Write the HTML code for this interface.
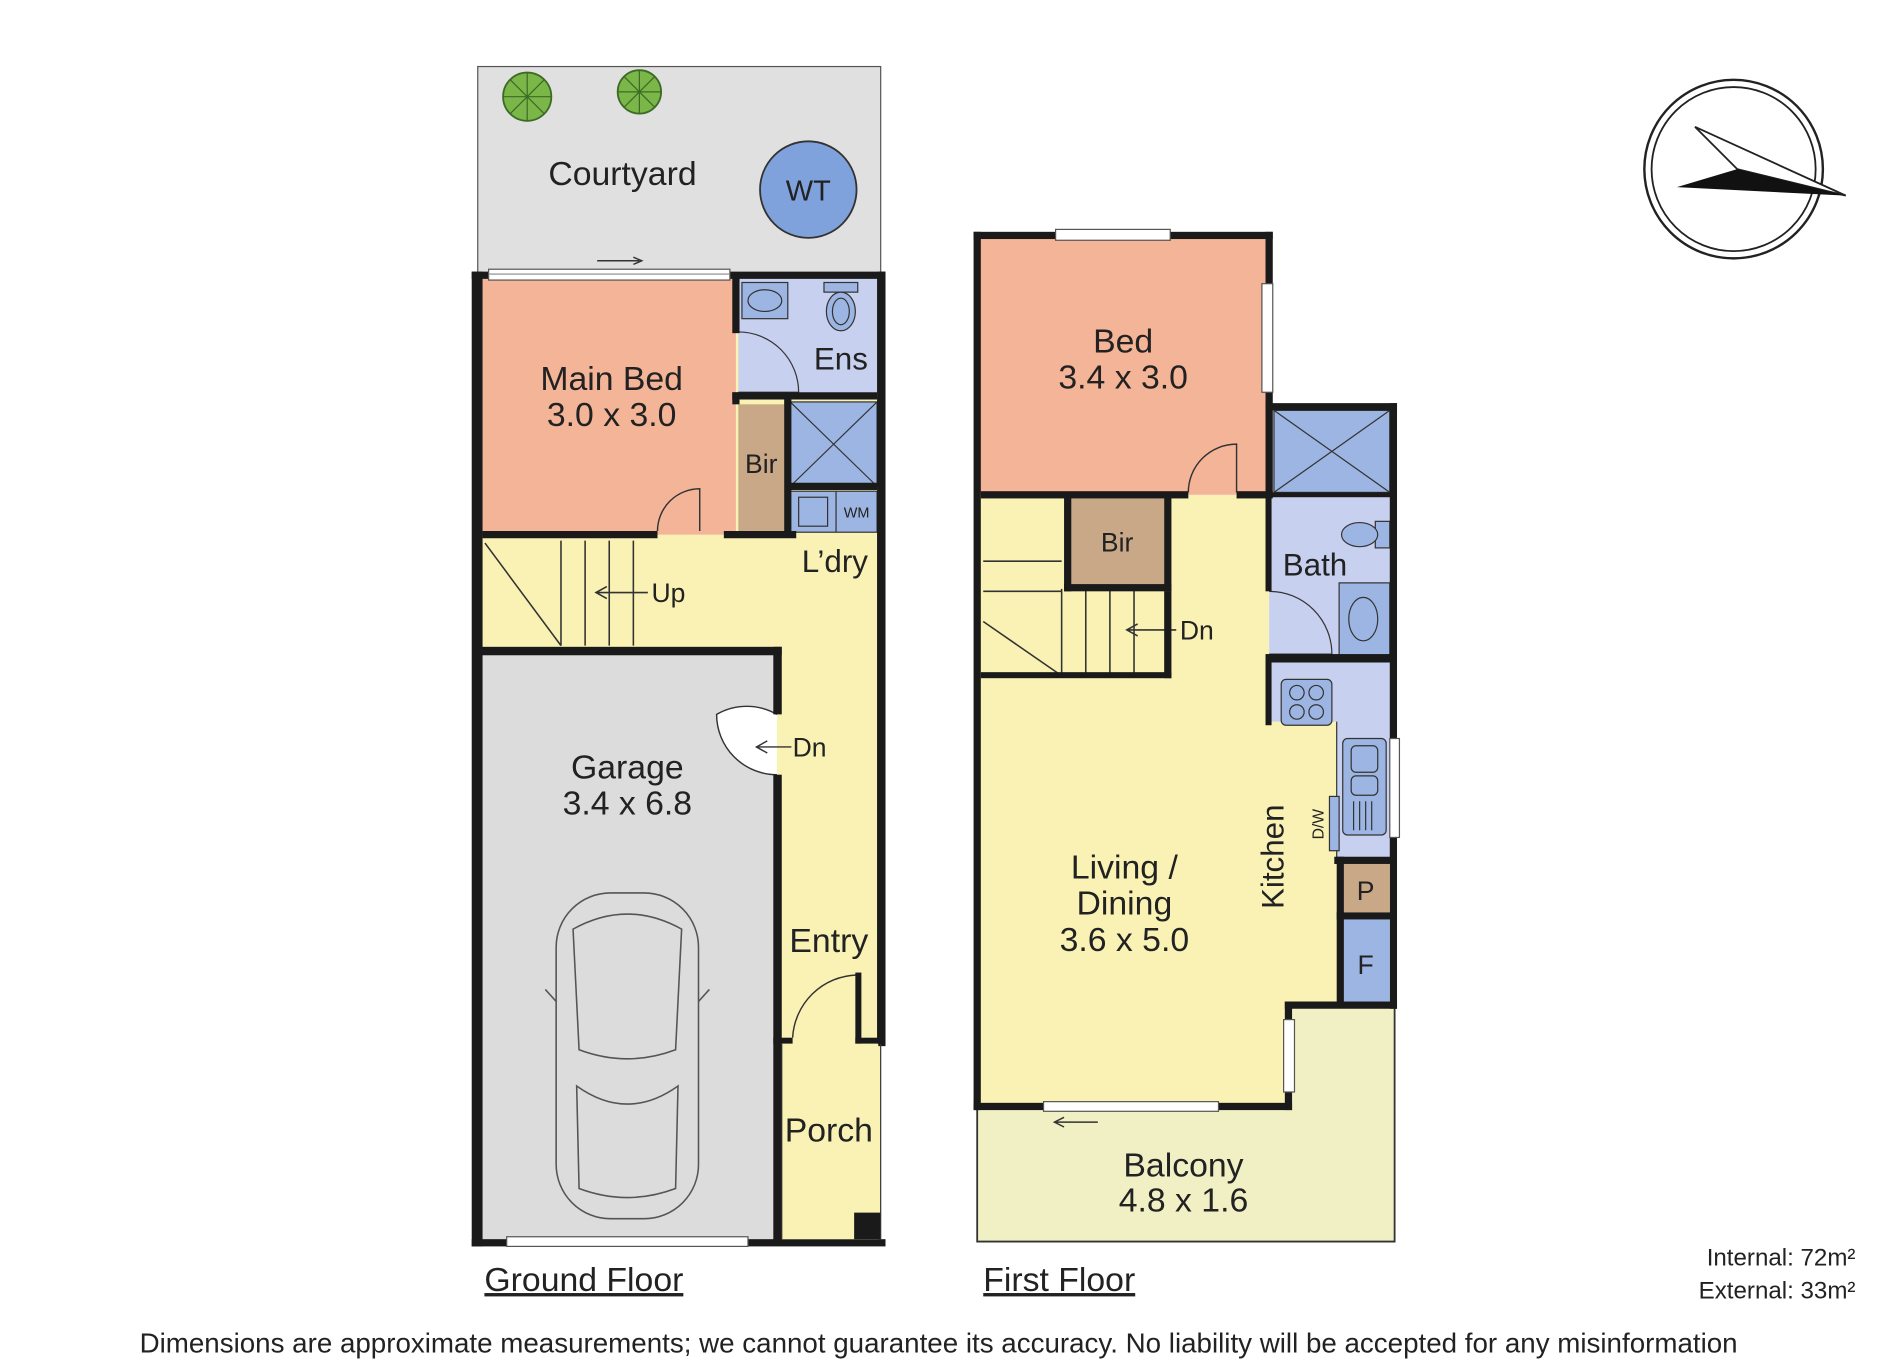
<!DOCTYPE html>
<html><head><meta charset="utf-8"><style>html,body{margin:0;padding:0;background:#fff}svg{display:block}text{font-family:"Liberation Sans",sans-serif;fill:#222}</style></head><body>
<svg width="1882" height="1360" viewBox="0 0 1560 1127" xmlns="http://www.w3.org/2000/svg">
<rect width="1560" height="1127" fill="#fff"/>
<!-- Courtyard -->
<rect x="396" y="55" width="334" height="172" fill="#e0e0e0" stroke="#555" stroke-width="1"/>
<circle cx="437" cy="80" r="20" fill="#7ab648" stroke="#3d6b25" stroke-width="1.5"/>
<path d="M437 60 V100 M417 80 H457 M423 66 L451 94 M451 66 L423 94" stroke="#3d6b25" stroke-width="1"/>
<circle cx="530" cy="76" r="18" fill="#7ab648" stroke="#3d6b25" stroke-width="1.5"/>
<path d="M530 58 V94 M512 76 H548 M517 63 L543 89 M543 63 L517 89" stroke="#3d6b25" stroke-width="1"/>
<circle cx="670" cy="157" r="40" fill="#7fa2dc" stroke="#333" stroke-width="1.5"/>
<text x="670" y="166" font-size="24" text-anchor="middle">WT</text>
<text x="516" y="153" font-size="28" text-anchor="middle">Courtyard</text>
<!-- Ground floor fills -->
<rect x="396" y="228" width="334" height="802" fill="#f9f2b4"/>
<rect x="400" y="230" width="210" height="213" fill="#f4b497"/>
<rect x="612" y="230" width="115" height="100" fill="#c8d0ef"/>
<rect x="615" y="234" width="38" height="30" fill="#9cb5e2" stroke="#333" stroke-width="1"/>
<ellipse cx="634" cy="249" rx="14" ry="9" fill="#9cb5e2" stroke="#333"/>
<rect x="683" y="234" width="28" height="8" fill="#9cb5e2" stroke="#333"/>
<ellipse cx="697" cy="258" rx="12" ry="16" fill="#9cb5e2" stroke="#333"/>
<ellipse cx="697" cy="258" rx="7" ry="11" fill="none" stroke="#333"/>
<path d="M612 325 L662 325 A50 50 0 0 0 612 275" fill="none" stroke="#333" stroke-width="1"/>
<rect x="655" y="333" width="72" height="70" fill="#9cb5e2" stroke="#333"/>
<path d="M655 333 L727 403 M727 333 L655 403" stroke="#333"/>
<rect x="612" y="335" width="38" height="105" fill="#c8a886"/>
<rect x="655" y="407" width="72" height="34" fill="#9cb5e2" stroke="#333"/>
<rect x="662" y="412" width="24" height="24" fill="none" stroke="#333"/>
<line x1="693" y1="407" x2="693" y2="441" stroke="#333"/>
<text x="710" y="429" font-size="12" text-anchor="middle">WM</text>
<rect x="400" y="540" width="244" height="490" fill="#dcdcdc"/>
<!-- stairs -->
<path d="M465 448 V535 M485 448 V535 M505 448 V535 M525 448 V535 M402 450 L465 535" stroke="#333" stroke-width="1.3" fill="none"/>
<path d="M537 491 H495 M503 486 L494 491 L503 496" stroke="#333" stroke-width="1.3" fill="none"/>
<text x="540" y="499" font-size="22">Up</text>
<!-- doors -->
<path d="M545 440 A35 35 0 0 1 580 405 V440" fill="none" stroke="#333" stroke-width="1.2"/>
<path d="M644 592 A50 50 0 0 0 594 592 A50 50 0 0 0 644 642" fill="#fff" stroke="#333" stroke-width="1.2"/>
<path d="M656 619 H628 M636 614 L627 619 L636 624" stroke="#333" stroke-width="1.2" fill="none"/>
<text x="657" y="627" font-size="22">Dn</text>
<path d="M657 860 A55 55 0 0 1 710 808 V860" fill="#f9f2b4" stroke="#333" stroke-width="1.2"/>
<!-- walls ground -->
<g fill="#1a1a1a">
<rect x="391" y="225" width="9" height="808"/>
<rect x="391" y="225" width="343" height="6"/>
<rect x="727" y="225" width="7" height="642"/>
<rect x="391" y="1027" width="343" height="6"/>
<rect x="400" y="440" width="145" height="6"/>
<rect x="600" y="440" width="60" height="6"/>
<rect x="607" y="228" width="6" height="48"/>
<rect x="607" y="325" width="6" height="10"/>
<rect x="607" y="325" width="120" height="6"/>
<rect x="650" y="330" width="6" height="115"/>
<rect x="655" y="400" width="72" height="6"/>
<rect x="396" y="536" width="252" height="7"/>
<rect x="641" y="536" width="7" height="56"/>
<rect x="641" y="642" width="7" height="388"/>
<rect x="641" y="860" width="16" height="5"/>
<rect x="709" y="806" width="5" height="59"/>
<rect x="709" y="860" width="25" height="5"/>
</g>
<rect x="648" y="865" width="80" height="162" fill="#f9f2b4"/>
<rect x="708" y="1005" width="22" height="22" fill="#1a1a1a"/>
<line x1="648" y1="865" x2="648" y2="1027" stroke="#333"/>
<line x1="730" y1="865" x2="730" y2="1027" stroke="#333"/>
<!-- windows ground -->
<rect x="405" y="223" width="200" height="9" fill="#fff" stroke="#555"/>
<path d="M405 227 H605" stroke="#888"/>
<path d="M495 216 H530 M525 213 L532 216 L525 219" stroke="#333" stroke-width="1.2" fill="none"/>
<rect x="420" y="1025" width="200" height="8" fill="#fff" stroke="#555"/>
<!-- car -->
<g fill="none" stroke="#555" stroke-width="1.3">
<rect x="461" y="740" width="118" height="270" rx="45"/>
<path d="M475 770 Q520 745 565 770 L560 870 Q520 885 480 870 Z"/>
<path d="M478 900 Q520 930 562 900 L560 985 Q520 1000 480 985 Z"/>
<path d="M461 830 L452 820 M579 830 L588 820"/>
</g>
<text x="520" y="645" font-size="28" text-anchor="middle">Garage</text>
<text x="520" y="675" font-size="28" text-anchor="middle">3.4 x 6.8</text>
<text x="507" y="323" font-size="28" text-anchor="middle">Main Bed</text>
<text x="507" y="353" font-size="28" text-anchor="middle">3.0 x 3.0</text>
<text x="697" y="306" font-size="26" text-anchor="middle">Ens</text>
<text x="631" y="392" font-size="22" text-anchor="middle">Bir</text>
<text x="692" y="474" font-size="26" text-anchor="middle">L’dry</text>
<text x="687" y="789" font-size="28" text-anchor="middle">Entry</text>
<text x="687" y="946" font-size="28" text-anchor="middle">Porch</text>
<text x="484" y="1070" font-size="28" text-anchor="middle" text-decoration="underline">Ground Floor</text>

<!-- First floor -->
<polygon points="810,917 1068,917 1068,835 1156,835 1156,1029 810,1029" fill="#f0f0c4" stroke="#333" stroke-width="1.5"/>
<polygon points="812,410 1052,410 1052,595 1110,595 1110,835 1068,835 1068,917 812,917" fill="#f9f2b4"/>
<rect x="812" y="195" width="240" height="215" fill="#f4b497"/>
<rect x="1052" y="338" width="104" height="205" fill="#c8d0ef"/>
<polygon points="1052,548 1156,548 1156,713 1108,713 1108,598 1052,598" fill="#c8d0ef"/>
<rect x="1056" y="340" width="96" height="68" fill="#9cb5e2" stroke="#333"/>
<path d="M1056 340 L1152 408 M1152 340 L1056 408" stroke="#333"/>
<rect x="1140" y="432" width="12" height="22" fill="#9cb5e2" stroke="#333"/>
<ellipse cx="1127" cy="443" rx="15" ry="10" fill="#9cb5e2" stroke="#333"/>
<rect x="1110" y="483" width="42" height="60" fill="#9cb5e2" stroke="#333"/>
<ellipse cx="1130" cy="513" rx="12" ry="18" fill="none" stroke="#333"/>
<path d="M1052 490 A52 52 0 0 1 1104 542 H1052" fill="none" stroke="#333"/>
<rect x="1062" y="563" width="42" height="38" rx="4" fill="#9cb5e2" stroke="#333"/>
<circle cx="1075" cy="574" r="6" fill="none" stroke="#333"/><circle cx="1091" cy="574" r="6" fill="none" stroke="#333"/>
<circle cx="1075" cy="590" r="6" fill="none" stroke="#333"/><circle cx="1091" cy="590" r="6" fill="none" stroke="#333"/>
<line x1="1108" y1="598" x2="1108" y2="713" stroke="#333"/>
<rect x="1113" y="612" width="36" height="80" rx="4" fill="#9cb5e2" stroke="#333"/>
<rect x="1120" y="618" width="22" height="22" rx="4" fill="none" stroke="#333"/>
<rect x="1120" y="643" width="22" height="16" rx="4" fill="none" stroke="#333"/>
<path d="M1122 664 V688 M1127 664 V688 M1132 664 V688 M1137 664 V688" stroke="#333"/>
<rect x="1102" y="660" width="8" height="45" fill="#9cb5e2" stroke="#333"/>
<text transform="translate(1097,683) rotate(-90)" font-size="13" text-anchor="middle">D/W</text>
<rect x="887" y="413" width="78" height="72" fill="#c8a886"/>
<!-- stairs first -->
<path d="M815 465 H880 M815 490 H880 M880 488 V560 M900 488 V560 M920 488 V560 M940 488 V560 M815 515 L880 560" stroke="#333" stroke-width="1.3" fill="none"/>
<path d="M975 522 H935 M943 517 L934 522 L943 527" stroke="#333" stroke-width="1.3" fill="none"/>
<text x="978" y="530" font-size="22">Dn</text>
<path d="M985 408 A40 40 0 0 1 1025 368 V408" fill="none" stroke="#333" stroke-width="1.2"/>
<g fill="#1a1a1a">
<rect x="807" y="192" width="248" height="6"/>
<rect x="807" y="192" width="6" height="728"/>
<rect x="1049" y="192" width="6" height="220"/>
<rect x="1049" y="334" width="109" height="6"/>
<rect x="1152" y="334" width="6" height="502"/>
<rect x="813" y="407" width="172" height="6"/>
<rect x="1025" y="407" width="30" height="6"/>
<rect x="1049" y="408" width="105" height="4"/>
<rect x="882" y="410" width="6" height="80"/>
<rect x="965" y="410" width="6" height="80"/>
<rect x="882" y="484" width="89" height="6"/>
<rect x="965" y="490" width="6" height="72"/>
<rect x="813" y="557" width="158" height="5"/>
<rect x="1049" y="412" width="5" height="78"/>
<rect x="1049" y="542" width="108" height="7"/>
<rect x="1049" y="549" width="5" height="52"/>
<rect x="1106" y="710" width="50" height="6"/>
<rect x="1108" y="710" width="6" height="125"/>
<rect x="1108" y="756" width="48" height="6"/>
<rect x="1065" y="830" width="93" height="6"/>
<rect x="1065" y="830" width="6" height="90"/>
<rect x="807" y="914" width="264" height="6"/>
</g>
<rect x="1114" y="762" width="38" height="68" fill="#9cb5e2"/>
<rect x="1114" y="716" width="38" height="40" fill="#c8a886"/>
<rect x="875" y="190" width="95" height="9" fill="#fff" stroke="#555"/>
<rect x="1046" y="235" width="9" height="90" fill="#fff" stroke="#555"/>
<rect x="1152" y="612" width="8" height="82" fill="#fff" stroke="#555"/>
<rect x="1064" y="845" width="9" height="60" fill="#fff" stroke="#555"/>
<rect x="865" y="913" width="145" height="8" fill="#fff" stroke="#555"/>
<path d="M875 930 H910 M882 926 L874 930 L882 934" stroke="#333" stroke-width="1.2" fill="none"/>
<text x="931" y="292" font-size="28" text-anchor="middle">Bed</text>
<text x="931" y="322" font-size="28" text-anchor="middle">3.4 x 3.0</text>
<text x="926" y="457" font-size="22" text-anchor="middle">Bir</text>
<text x="1090" y="477" font-size="26" text-anchor="middle">Bath</text>
<text x="932" y="728" font-size="28" text-anchor="middle">Living /</text>
<text x="932" y="758" font-size="28" text-anchor="middle">Dining</text>
<text x="932" y="788" font-size="28" text-anchor="middle">3.6 x 5.0</text>
<text transform="translate(1064,710) rotate(-90)" font-size="26" text-anchor="middle">Kitchen</text>
<text x="1132" y="746" font-size="22" text-anchor="middle">P</text>
<text x="1132" y="807" font-size="22" text-anchor="middle">F</text>
<text x="981" y="975" font-size="28" text-anchor="middle">Balcony</text>
<text x="981" y="1004" font-size="28" text-anchor="middle">4.8 x 1.6</text>
<text x="878" y="1070" font-size="28" text-anchor="middle" text-decoration="underline">First Floor</text>
<!-- compass -->
<circle cx="1437" cy="140" r="74" fill="none" stroke="#222" stroke-width="2"/>
<circle cx="1437" cy="140" r="68" fill="none" stroke="#222" stroke-width="1.5"/>
<path d="M1405 105 L1440 140 L1530 162 Z" fill="#fff" stroke="#222" stroke-width="1.5"/>
<path d="M1390 155 L1440 140 L1530 162 Z" fill="#111"/>
<text x="1538" y="1049" font-size="20" text-anchor="end">Internal: 72m²</text>
<text x="1538" y="1076" font-size="20" text-anchor="end">External: 33m²</text>
<text x="778" y="1121" font-size="23" text-anchor="middle">Dimensions are approximate measurements; we cannot guarantee its accuracy. No liability will be accepted for any misinformation</text>
</svg>
</body></html>
